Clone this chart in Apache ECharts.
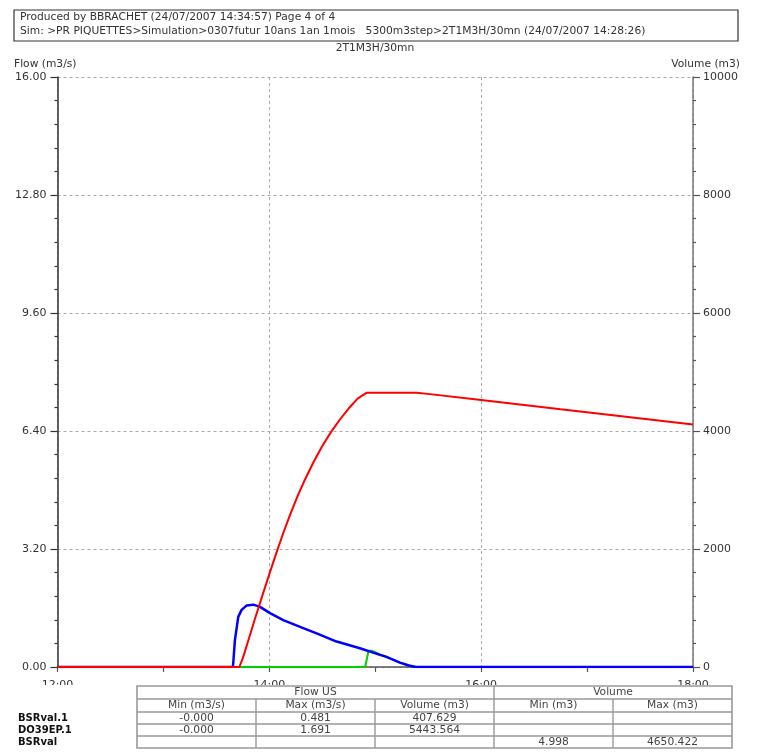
<!DOCTYPE html>
<html>
<head>
<meta charset="utf-8">
<script src="https://cdn.jsdelivr.net/npm/echarts@6/dist/echarts.min.js"></script>
<style>
html,body{margin:0;padding:0;background:#fff;}
#chart{width:765px;height:752px;}
</style>
</head>
<body>
<div id="chart"></div>
<script>
// ---- data (time in minutes after 12:00) ----
var xTickLabels = ['12:00', '14:00', '16:00', '18:00'];
var flowTicks = ['0.00', '3.20', '6.40', '9.60', '12.80', '16.00'];
var volTicks = ['0', '2000', '4000', '6000', '8000', '10000'];

var greenTime = [0, 174.3, 176.2, 178, 182.7, 186, 194, 199, 203, 360];
var greenFlow = [0, 0, 0.44, 0.44, 0.34, 0.28, 0.12, 0.04, 0, 0];

var blueTime = [0, 99.4, 100.5, 102.4, 104.3, 107.2, 110.9, 114.7, 120.4, 127.9, 137.4, 146.8, 158.1, 171.3, 182.7, 186, 194, 199, 203, 360];
var blueFlow = [0, 0, 0.73, 1.36, 1.55, 1.67, 1.69, 1.63, 1.46, 1.27, 1.09, 0.91, 0.69, 0.51, 0.33, 0.28, 0.12, 0.04, 0, 0];

var redTime = [0, 103, 105, 108, 112, 116, 120, 124, 128, 132, 136, 140, 145, 150, 155, 160, 165, 170, 175.2, 203.5, 211, 240, 285, 322, 360];
var redVol = [0, 0, 150, 440, 830, 1205, 1575, 1935, 2280, 2600, 2895, 3165, 3470, 3745, 3985, 4195, 4385, 4548, 4650, 4650, 4625, 4525, 4368, 4243, 4110];

var seriesNames = ['BSRval.1', 'DO39EP.1', 'BSRval'];
var colFlowMin = ['-0.000', '-0.000', ''];
var colFlowMax = ['0.481', '1.691', ''];
var colFlowVol = ['407.629', '5443.564', ''];
var colVolMin = ['', '', '4.998'];
var colVolMax = ['', '', '4650.422'];
var subHeaders = ['Min (m3/s)', 'Max (m3/s)', 'Volume (m3)', 'Min (m3)', 'Max (m3)'];

var headerLine1 = 'Produced by BBRACHET (24/07/2007 14:34:57) Page 4 of 4';
var headerLine2 = 'Sim: >PR PIQUETTES>Simulation>0307futur 10ans 1an 1mois   5300m3step>2T1M3H/30mn (24/07/2007 14:28:26)';
var chartTitle = '2T1M3H/30mn';

function zip(a, b) { return a.map(function (v, i) { return [v, b[i]]; }); }

var FONT = '"DejaVu Sans", Verdana, sans-serif';
var Z = 100;

function txt(x, y, s, opts) {
  opts = opts || {};
  return {
    type: 'text', x: x, y: y, z: Z,
    style: {
      text: s,
      fontFamily: FONT,
      fontSize: opts.size || 10.7,
      fontWeight: opts.bold ? 'bold' : 'normal',
      fill: opts.color || '#333',
      textAlign: opts.align || 'left',
      textVerticalAlign: 'middle',
      align: opts.align || 'left',
      verticalAlign: 'middle'
    }
  };
}
function line(x1, y1, x2, y2, color, w) {
  return { type: 'line', z: Z, shape: { x1: x1, y1: y1, x2: x2, y2: y2 }, style: { stroke: color || '#999', lineWidth: w || 1.5 } };
}

var graphics = [];
// header box
graphics.push({ type: 'rect', z: Z, shape: { x: 14, y: 10, width: 724, height: 31 }, style: { fill: '#fff', stroke: '#333', lineWidth: 1.2 } });
graphics.push(txt(20, 17, headerLine1));
graphics.push(txt(20, 31, headerLine2));
graphics.push(txt(375, 48, chartTitle, { align: 'center' }));
graphics.push(txt(14, 64, 'Flow (m3/s)'));
graphics.push(txt(740, 64, 'Volume (m3)', { align: 'right' }));

// white cover for clipped x-axis labels
graphics.push({ type: 'rect', z: Z - 1, shape: { x: 0, y: 685, width: 765, height: 67 }, style: { fill: '#fff' } });

// table
var colX = [137, 256, 375, 494, 613, 732];
var rowY = [686, 699, 712, 724, 736, 748];
var tc = '#999';
graphics.push({ type: 'rect', z: Z, shape: { x: colX[0], y: rowY[0], width: colX[5] - colX[0], height: rowY[5] - rowY[0] }, style: { fill: '#fff', stroke: tc, lineWidth: 1.6 } });
for (var r = 1; r < 5; r++) graphics.push(line(colX[0], rowY[r], colX[5], rowY[r], tc, 1.4));
for (var c = 1; c < 5; c++) {
  var ys = (c === 3) ? rowY[0] : rowY[1];
  graphics.push(line(colX[c], ys, colX[c], rowY[5], tc, 1.4));
}
var tcol = '#444';
graphics.push(txt((colX[0] + colX[3]) / 2, (rowY[0] + rowY[1]) / 2, 'Flow US', { align: 'center', color: tcol }));
graphics.push(txt((colX[3] + colX[5]) / 2, (rowY[0] + rowY[1]) / 2, 'Volume', { align: 'center', color: tcol }));
subHeaders.forEach(function (h, i) {
  graphics.push(txt((colX[i] + colX[i + 1]) / 2, (rowY[1] + rowY[2]) / 2, h, { align: 'center', color: tcol }));
});
var cols = [colFlowMin, colFlowMax, colFlowVol, colVolMin, colVolMax];
seriesNames.forEach(function (n, r) {
  var cy = (rowY[r + 2] + rowY[r + 3]) / 2;
  graphics.push(txt(18, cy, n, { bold: true, color: '#111', size: 10 }));
  cols.forEach(function (col, i) {
    if (col[r]) graphics.push(txt((colX[i] + colX[i + 1]) / 2, cy, col[r], { align: 'center', color: tcol }));
  });
});

var axisCol = '#555';
var gridLine = { show: true, lineStyle: { color: '#aaa', type: [3, 3], width: 1 } };

var option = {
  animation: false,
  backgroundColor: '#fff',
  grid: { left: 57.5, right: 72, top: 77, bottom: 85, containLabel: false },
  xAxis: {
    type: 'value', min: 0, max: 360, interval: 120,
    axisLine: { show: true, onZero: false, lineStyle: { color: axisCol, width: 1.5 } },
    axisTick: { show: true, length: 5, lineStyle: { color: axisCol, width: 1.2 } },
    minorTick: { show: true, splitNumber: 2, length: 5, lineStyle: { color: axisCol, width: 1.2 } },
    axisLabel: {
      margin: 13, fontFamily: FONT, fontSize: 11, color: '#333',
      formatter: function (v) { return xTickLabels[Math.round(v / 120)]; }
    },
    splitLine: gridLine
  },
  yAxis: [{
    type: 'value', min: 0, max: 16, interval: 3.2, position: 'left',
    axisLine: { show: true, lineStyle: { color: '#333', width: 1.5 } },
    axisTick: { show: true, length: 7, lineStyle: { color: '#333', width: 1.2 } },
    minorTick: { show: true, splitNumber: 5, length: 3, lineStyle: { color: '#333', width: 1.2 } },
    axisLabel: {
      margin: 11, fontFamily: FONT, fontSize: 11, color: '#333',
      formatter: function (v) { return flowTicks[Math.round(v / 3.2)]; }
    },
    splitLine: gridLine
  }, {
    type: 'value', min: 0, max: 10000, interval: 2000, position: 'right',
    axisLine: { show: true, lineStyle: { color: '#777', width: 1.5 } },
    axisTick: { show: true, length: 7, lineStyle: { color: '#555', width: 1.2 } },
    minorTick: { show: true, splitNumber: 5, length: 3, lineStyle: { color: '#555', width: 1.2 } },
    axisLabel: {
      margin: 10, fontFamily: FONT, fontSize: 11, color: '#333',
      formatter: function (v) { return volTicks[Math.round(v / 2000)]; }
    },
    splitLine: { show: false }
  }],
  series: [{
    name: 'BSRval.1', type: 'line', yAxisIndex: 0, data: zip(greenTime, greenFlow),
    showSymbol: false, symbol: 'none', lineStyle: { color: '#00d000', width: 2 }, itemStyle: { color: '#00d000' }
  }, {
    name: 'DO39EP.1', type: 'line', yAxisIndex: 0, data: zip(blueTime, blueFlow),
    showSymbol: false, symbol: 'none', lineStyle: { color: '#0000ff', width: 2.5 }, itemStyle: { color: '#0000ff' }
  }, {
    name: 'BSRval', type: 'line', yAxisIndex: 1, data: zip(redTime, redVol),
    showSymbol: false, symbol: 'none', lineStyle: { color: '#ff0000', width: 2 }, itemStyle: { color: '#ff0000' }
  }],
  graphic: { elements: graphics }
};

var chart = echarts.init(document.getElementById('chart'), null, { renderer: 'canvas' });
chart.setOption(option);
</script>
</body>
</html>
